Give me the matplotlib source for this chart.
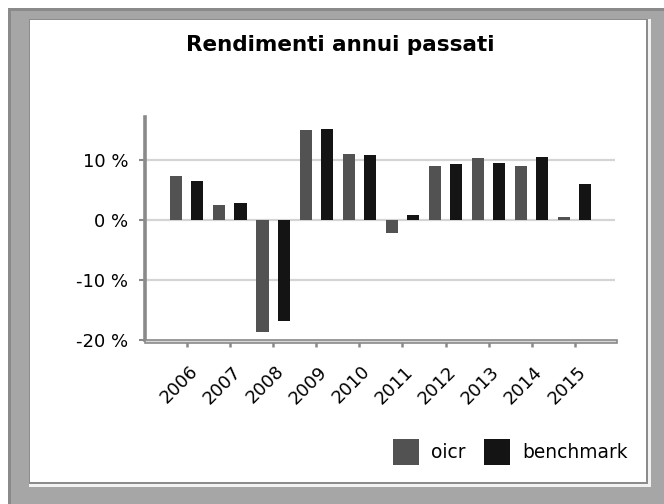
import matplotlib
matplotlib.use("Agg")
import matplotlib.pyplot as plt
from matplotlib.patches import Rectangle
from matplotlib.transforms import ScaledTranslation
import numpy as np

years = ["2006", "2007", "2008", "2009", "2010", "2011", "2012", "2013", "2014", "2015"]
oicr = [7.3, 2.6, -18.6, 15.0, 11.0, -2.2, 9.1, 10.3, 9.1, 0.45]
benchmark = [6.6, 2.8, -16.9, 15.2, 10.8, 0.8, 9.3, 9.5, 10.5, 6.0]
yticks = [-20, -10, 0, 10]
ytick_labels = ["-20 %", "-10 %", "0 %", "10 %"]
title = "Rendimenti annui passati"

W, H = 664, 504
fig = plt.figure(figsize=(W / 100, H / 100), dpi=100)
fig.patch.set_facecolor("white")


def rect(x0, y0, x1, y1, color):
    """Rectangle given in pixel coordinates measured from the top-left."""
    fig.patches.append(Rectangle((x0 / W, 1 - y1 / H), (x1 - x0) / W, (y1 - y0) / H,
                                 transform=fig.transFigure, facecolor=color,
                                 edgecolor="none", zorder=-10))


# bevelled frame around the chart panel
rect(8, 8, W, H, "#a6a6a6")
rect(8, 8, 11, H, "#8a8a8a")
rect(8, 8, W, 11, "#8a8a8a")
rect(29, 19, 648, 484, "#8c8c8c")
rect(30, 20, 646, 482, "white")
rect(29, 484, 651, 487, "#f2f2f2")
rect(648, 19, 651, 487, "#f2f2f2")

fs = 13.0
ax = fig.add_axes([145 / W, 1 - 340 / H, 470 / W, 223 / H])
ax.set_facecolor("none")

x = np.arange(len(years))
off, bw = 0.245, 0.28
ax.bar(x - off, oicr, bw, color="#525252", label="oicr", zorder=3)
ax.bar(x + off, benchmark, bw, color="#141414", label="benchmark", zorder=3)

ax.set_xlim(-0.97, 9.93)
ax.set_ylim(-20, 17.2)

for v in [-10, 0, 10]:
    ax.axhline(v, color="#d4d4d4", lw=1.6, zorder=1)

for s in ["top", "right"]:
    ax.spines[s].set_visible(False)
ax.spines["left"].set_color("#8a8a8a")
ax.spines["left"].set_linewidth(2.6)
ax.spines["bottom"].set_visible(False)
# x axis drawn as a thin outlined bar
ax.add_patch(Rectangle((0, -0.012), 1.005, 0.014, transform=ax.transAxes,
                       facecolor="#d8d8d8", edgecolor="#8a8a8a", lw=1.2,
                       clip_on=False, zorder=4))

ax.set_yticks(yticks)
ax.set_yticklabels(ytick_labels, fontsize=fs)
ax.set_xticks(x)
ax.set_xticklabels(years, fontsize=fs, rotation=45, ha="right", va="center",
                   rotation_mode="anchor")
ax.tick_params(axis="y", length=4, width=1.5, color="#8a8a8a", pad=8)
ax.tick_params(axis="x", length=5, width=1.8, color="#8a8a8a", pad=10)
shift = ScaledTranslation(8 / 100, -8 / 100, fig.dpi_scale_trans)
for lbl in ax.get_xticklabels():
    lbl.set_transform(lbl.get_transform() + shift)

fig.text(340 / W, 1 - 45 / H, title, ha="center", va="center",
         fontsize=15.5, fontweight="bold")

fig.legend(loc="center right", bbox_to_anchor=(628 / W, 1 - 452 / H), ncol=2,
           frameon=False, fontsize=13.4, handlelength=1.4, handleheight=1.75,
           handletextpad=0.65, columnspacing=1.0, borderpad=0, borderaxespad=0)

fig.savefig("out.png", dpi=100)
